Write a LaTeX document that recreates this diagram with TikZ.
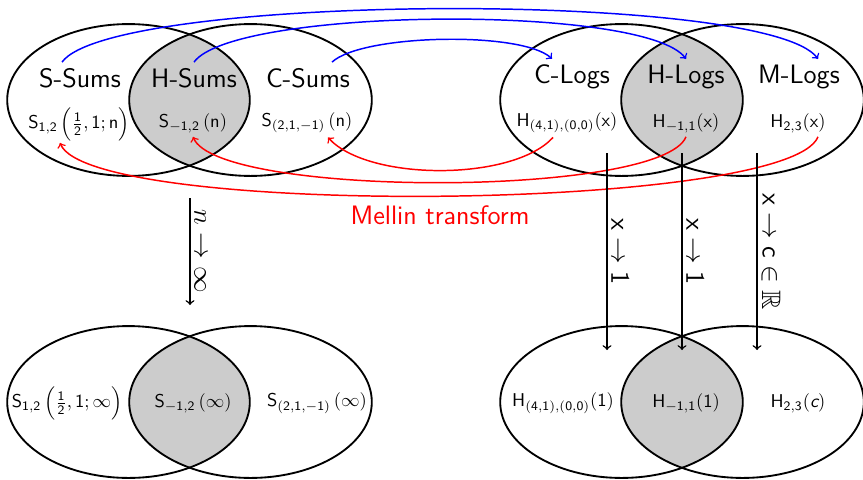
\documentclass[tikz,border=0pt]{standalone}
\usepackage{amssymb}
\usetikzlibrary{calc}

% Two overlapping ellipses with the shared part shaded grey
\newcommand\vennpair[3]{%
  \begin{scope}
    \clip (#1,#3) ellipse [x radius=65.5pt, y radius=41pt];
    \fill[gray!40] (#2,#3) ellipse [x radius=65.5pt, y radius=41pt];
  \end{scope}
  \draw[setline] (#1,#3) ellipse [x radius=65.5pt, y radius=41pt];
  \draw[setline] (#2,#3) ellipse [x radius=65.5pt, y radius=41pt];
}

\begin{document}
\begin{tikzpicture}[x=0.54pt, y=-0.54pt,
  setline/.style={line width=1pt},
  title/.style={font=\sffamily\Large, inner sep=2pt},
  formula/.style={inner sep=1pt},
  link/.style={->, line width=0.8pt},
  limit/.style={->, line width=0.8pt},
  limitlabel/.style={midway, anchor=south, rotate=-90, font=\Large, inner sep=2pt}]
\useasboundingbox (0,0) rectangle (863,479);

% the four set diagrams
\vennpair{128.5}{250.5}{100}
\vennpair{621.5}{742.5}{100}
\vennpair{128.5}{250.5}{402}
\vennpair{621.5}{742.5}{402}

% sums (top left)
\node[title] (ssums) at (80,78) {S-Sums};
\node[title] (hsums) at (194,78) {H-Sums};
\node[title] (csums) at (308,78) {C-Sums};
\node[formula] (ssumsf) at (79,124) {$\mathsf{S_{1,2}\,\Bigl(\frac{1}{2},1;n\Bigr)}$};
\node[formula] (hsumsf) at (193,123) {$\mathsf{S_{-1,2}\left(n\right)}$};
\node[formula] (csumsf) at (307,123) {$\mathsf{S_{(2,1,-1)}\left(n\right)}$};

% logarithms (top right)
\node[title] (clogs) at (572,77) {C-Logs};
\node[title] (hlogs) at (686,77) {H-Logs};
\node[title] (mlogs) at (799,77) {M-Logs};
\node[formula] (clogsf) at (567,123) {$\mathsf{H_{(4,1),(0,0)}(x)}$};
\node[formula] (hlogsf) at (686,123) {$\mathsf{H_{-1,1}(x)}$};
\node[formula] (mlogsf) at (798,123) {$\mathsf{H_{2,3}(x)}$};

% limits n -> infinity (bottom left)
\node[formula] (ssumsi) at (67,403) {$\mathsf{S_{1,2}\,\Bigl(\frac{1}{2},1;\infty\Bigr)}$};
\node[formula] (hsumsi) at (193,403) {$\mathsf{S_{-1,2}\left(\infty\right)}$};
\node[formula] (csumsi) at (317,403) {$\mathsf{S_{(2,1,-1)}\left(\infty\right)}$};

% limits x -> 1 (bottom right)
\node[formula] (clogsi) at (563,403) {$\mathsf{H_{(4,1),(0,0)}(1)}$};
\node[formula] (hlogsi) at (686,403) {$\mathsf{H_{-1,1}(1)}$};
\node[formula] (mlogsi) at (798,403) {$\mathsf{H_{2,3}}(\textsf{\itshape c})$};

% sums are expressed by logarithms
\draw[link, blue] ($(ssums.north)+(-18,-2)$) .. controls +(50,-69) and +(-50,-69) .. ($(mlogs.north)+(19,-2)$);
\draw[link, blue] ($(hsums.north)+(0,-2)$) .. controls +(40,-55) and +(-40,-55) .. ($(hlogs.north)+(0,-2)$);
\draw[link, blue] ($(csums.north)+(24,-2)$) .. controls +(30,-28) and +(-30,-28) .. ($(clogs.north)+(-20,-2)$);

% Mellin transform back to sums
\draw[link, red] ($(clogsf.south)+(-14,2)$) .. controls +(-40,44) and +(40,44) .. ($(csumsf.south)+(21,2)$);
\draw[link, red] ($(hlogsf.south)+(0,2)$) .. controls +(-25,61) and +(25,61) .. ($(hsumsf.south)+(0,2)$);
\draw[link, red] ($(mlogsf.south)+(20,2)$) .. controls +(-30,75) and +(30,75) .. ($(ssumsf.south)+(-19,0)$);
\node[text=red, font=\sffamily\Large] (mellin) at (440,215) {Mellin transform};

% limit arrows
\coordinate (nTop) at (190,198);
\coordinate (nBot) at (190,305);
\draw[limit] (nTop) -- node[limitlabel] {$n\to\infty$} (nBot);

\coordinate (aTop) at (607,153);
\coordinate (aBot) at (607,350);
\coordinate (bTop) at (682,153);
\coordinate (bBot) at (682,350);
\coordinate (cTop) at (757,153);
\coordinate (cBot) at (757,350);
\draw[limit] (aTop) -- node[limitlabel] {$\mathsf{x}\to\mathsf{1}$} (aBot);
\draw[limit] (bTop) -- node[limitlabel] {$\mathsf{x}\to\mathsf{1}$} (bBot);
\draw[limit] (cTop) -- node[limitlabel] {$\mathsf{x}\to\mathsf{c}\in\mathbb{R}$} (cBot);
\end{tikzpicture}
\end{document}
